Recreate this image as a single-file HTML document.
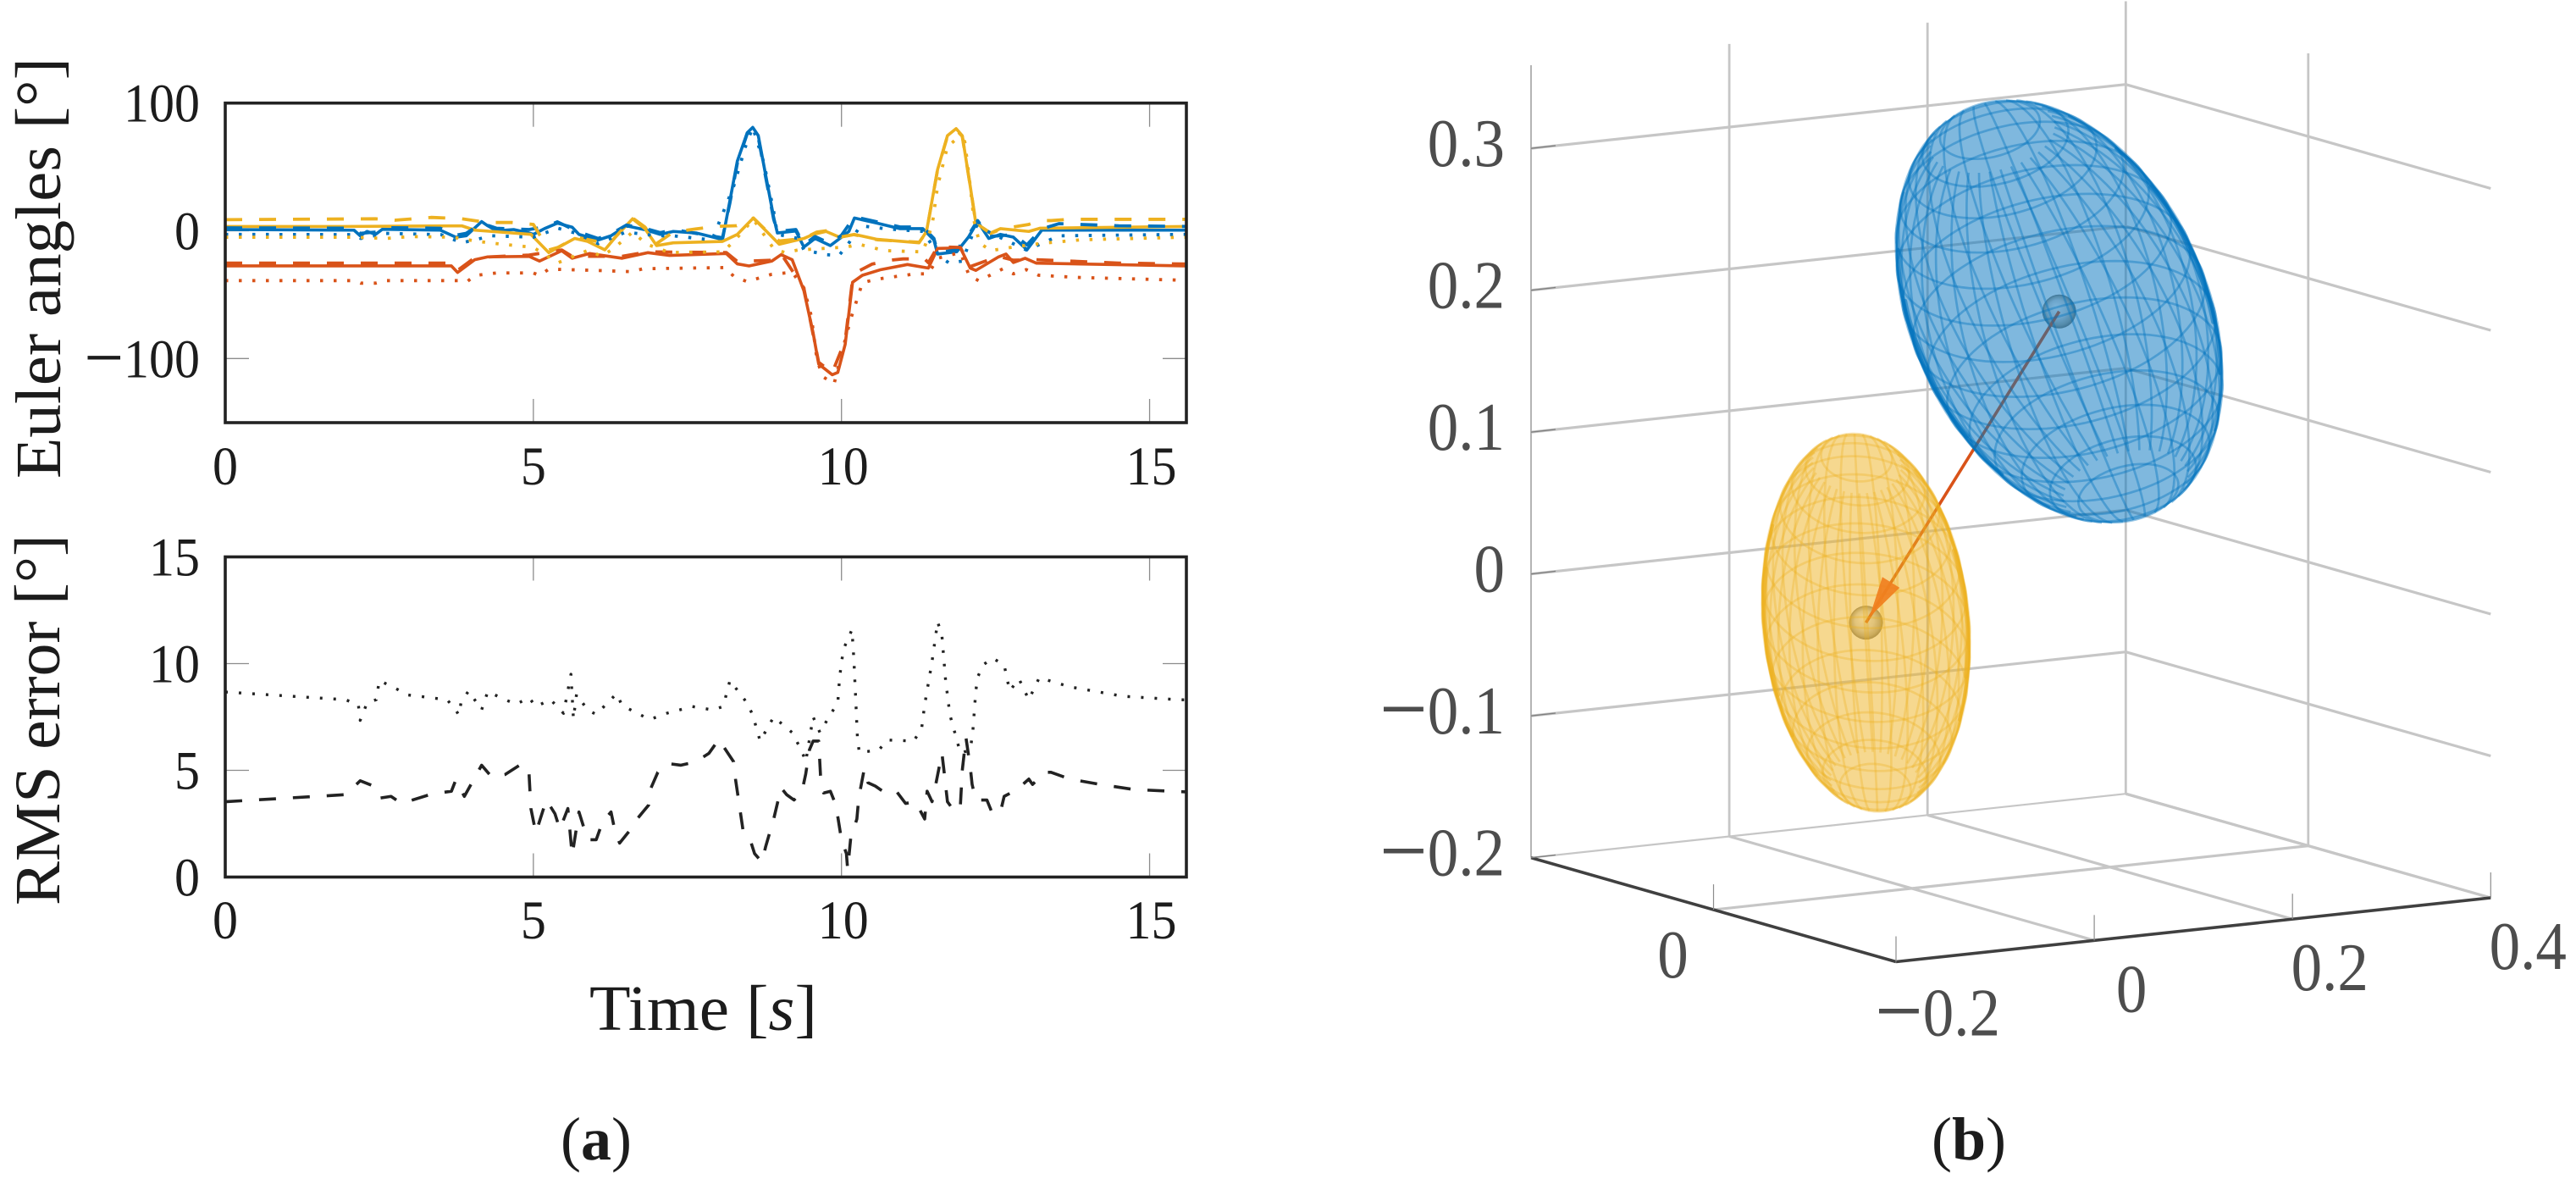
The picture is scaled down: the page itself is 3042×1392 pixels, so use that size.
<!DOCTYPE html>
<html lang="en">
<head>
<meta charset="utf-8">
<title>Euler angles, RMS error and covariance ellipsoids</title>
<style>
  html, body { margin: 0; padding: 0; background: #fff; }
  svg { display: block; }
  text { font-family: "Liberation Serif", serif; }
</style>
</head>
<body>
<svg id="figure" xmlns="http://www.w3.org/2000/svg" width="3042" height="1392" viewBox="0 0 3042 1392">
  <defs>
    <radialGradient id="sphere-shade" cx="0.5" cy="0.5" r="0.5" fx="0.4" fy="0.35">
      <stop offset="0" stop-color="#f6f6f6"/>
      <stop offset="0.55" stop-color="#d6d6d6"/>
      <stop offset="0.85" stop-color="#aaa69a"/>
      <stop offset="1" stop-color="#7a766c"/>
    </radialGradient>
    <clipPath id="clip-euler"><rect x="266" y="121.7" width="1135" height="377.3"/></clipPath>
    <clipPath id="clip-rms"><rect x="266" y="657.5" width="1135" height="378"/></clipPath>
  </defs>

  <g id="panel-a">
    <g id="euler-plot"></g>
    <g id="rms-plot"></g>
    <text transform="translate(71,565) rotate(-90)" font-size="76" fill="#1c1c1c" textLength="497" lengthAdjust="spacingAndGlyphs">Euler angles [°]</text>
    <text transform="translate(70,1069) rotate(-90)" font-size="76" fill="#1c1c1c" textLength="438" lengthAdjust="spacingAndGlyphs">RMS error [°]</text>
    <text x="696" y="1216" font-size="76" fill="#1c1c1c" textLength="269" lengthAdjust="spacingAndGlyphs">Time [<tspan font-style="italic">s</tspan>]</text>
    <text x="662" y="1369" font-size="72" fill="#1c1c1c">(<tspan font-weight="bold">a</tspan>)</text>
  </g>

  <g id="panel-b">
    <g id="scene-3d"></g>
    <text x="2281" y="1369" font-size="72" fill="#1c1c1c">(<tspan font-weight="bold">b</tspan>)</text>
  </g>
</svg>

<script>
// ---------- Panel (a) data: [time s, value] ----------
const timeTicks = [0, 5, 10, 15];
const eulerTicks = [100, 0, -100];
const rmsTicks = [15, 10, 5, 0];

const blueSolid = [[0,1],[2.09,.5],[2.19,-3.9],[2.3,-.5],[2.44,-2.8],[2.55,1.2],[3.49,.5],[3.74,-5],[3.91,-3.9],[4.16,7.2],[4.26,3.9],[4.4,0],[4.68,1],[4.93,-1.7],[5,-2.8],[5.18,1.7],[5.39,6],[5.63,2.8],[5.74,-2.8],[6.05,-7.2],[6.26,-3.9],[6.51,3.9],[6.84,.5],[7.06,-2.8],[7.27,-.5],[7.64,-1.7],[8.07,-6.8],[8.19,23.7],[8.31,54.6],[8.47,76.7],[8.56,81],[8.65,74.5],[8.77,43.6],[8.9,10.5],[8.96,-1.7],[9.26,-.1],[9.39,-12.7],[9.57,-6],[9.82,-11.6],[10,-5],[10.12,-.5],[10.21,10],[10.58,6],[10.95,1.7],[11.32,1.7],[11.5,-7.2],[11.56,-18.2],[11.87,-16.4],[12.06,-5],[12.21,7.2],[12.39,-6],[12.58,-2.8],[12.79,-5],[13.01,-14.9],[13.25,.5],[13.4,.5],[15.6,.5]];
const redSolid = [[0,-27.5],[3.67,-27.5],[3.77,-32.6],[4.05,-22.6],[4.26,-20.4],[4.93,-20],[5.1,-23.7],[5.46,-15.6],[5.63,-21.5],[5.91,-17.8],[6.44,-21.5],[6.86,-17.1],[7.21,-19.3],[8.13,-17.8],[8.31,-25.9],[8.5,-27.5],[8.87,-23.7],[9.02,-18.7],[9.2,-22.6],[9.39,-46.9],[9.54,-80],[9.63,-104.3],[9.85,-112.7],[9.94,-110.9],[10.06,-88.9],[10.18,-40.3],[10.34,-34.8],[10.64,-30.4],[11.07,-26.4],[11.41,-29.2],[11.56,-13.8],[11.93,-13.4],[12.09,-29.2],[12.18,-31],[12.55,-20.4],[12.67,-18.2],[12.79,-24.8],[12.98,-21.5],[13.16,-25.3],[15.6,-27.5]];
const yellowSolid = [[0,3.4],[1.95,3.4],[3.84,3.9],[4.05,.5],[4.96,-2.8],[5.25,-17.1],[5.67,-6],[5.88,-8.3],[6.16,-14.9],[6.33,-5],[6.61,9.4],[6.81,1.7],[7,-11.6],[7.27,-9.4],[8.07,-8.3],[8.31,-2.8],[8.57,10],[8.74,1.7],[8.99,-10.5],[9.39,-6],[9.54,-2.8],[9.75,-.5],[9.97,-5],[10.21,-2.8],[10.58,-6.7],[11.26,-9.4],[11.38,-.5],[11.56,48],[11.72,74.5],[11.86,80],[11.96,74.5],[12.09,34.8],[12.18,6],[12.42,-1.7],[12.58,1.7],[13.04,-.5],[13.22,2],[15.6,3.4]];

const blueDashed = [[0,2.3],[2.09,2],[2.19,-2],[2.44,-1],[2.55,2.5],[3.49,2],[3.74,-3.5],[3.91,-2],[4.16,6],[4.4,2],[4.93,1],[5.18,3],[5.39,7],[5.74,-1],[6.05,-6],[6.26,-2.5],[6.51,4.5],[6.84,1.5],[7.06,-1.5],[7.27,1],[8.07,-5.5],[8.19,22],[8.31,53],[8.47,76],[8.56,80],[8.65,73],[8.77,42],[8.9,9],[8.96,-.5],[9.26,1],[9.39,-11],[9.57,-4.5],[9.82,-10],[10,-3.5],[10.21,11],[10.58,7],[10.95,3],[11.32,3],[11.5,-6],[11.56,-17],[11.87,-15],[12.06,-3.5],[12.21,8],[12.39,-4.5],[12.79,-3],[13.01,-11],[13.25,1.5],[13.53,5.6],[14.5,3.9],[15.6,3.4]];
const redDashed = [[0,-25.3],[3.67,-25.3],[3.77,-31],[4.05,-21],[4.93,-19],[5.46,-15],[5.63,-20],[6.44,-20],[6.86,-16.5],[8.13,-17],[8.31,-24],[8.87,-23],[9.02,-18],[9.39,-45],[9.63,-103],[9.85,-111],[10.06,-86],[10.18,-38],[10.3,-31],[10.5,-26],[10.8,-23],[11,-22],[11.35,-22],[11.41,-25],[11.56,-12.5],[11.93,-13],[12.09,-28],[12.55,-20],[12.79,-23],[13.16,-22.6],[14.5,-25.3],[15.6,-26]];
const yellowDashed = [[0,8.7],[2.44,9.4],[2.75,8.3],[3.35,10.5],[3.84,9.4],[4.26,6.5],[4.65,6.5],[5,5],[5.25,-15],[5.4,-13],[5.7,-5],[6,-8],[6.2,-12],[6.33,-5],[6.61,10],[6.81,3],[7,-10],[7.27,-1],[7.64,1.5],[8,3.5],[8.3,4],[8.57,10],[8.74,2],[8.99,-8],[9.39,-6],[9.6,-1],[9.75,0],[9.97,-5],[10.2,-3],[10.58,-7],[11.26,-9],[11.38,-1],[11.56,48],[11.72,74],[11.86,79],[11.96,74],[12.09,35],[12.18,6],[12.42,-2],[12.58,1],[12.79,3],[13.04,5],[13.22,8],[13.4,8],[13.7,9],[15.6,9]];

const blueDotted = [[0,-2.8],[2.1,-3],[2.2,-6],[2.6,-2],[3.5,-3],[3.84,-9.4],[4.33,-3.9],[5,-5],[5.4,2],[5.7,-2],[6.05,-10],[6.5,-1],[7,-3.9],[7.27,-3.9],[7.9,-7.2],[8.25,34.8],[8.44,65.7],[8.56,81],[8.74,53.5],[8.9,15],[8.96,-2.8],[9.3,-6],[9.39,-15],[9.75,-18.7],[9.96,-19.3],[10.09,-11.6],[10.31,3.9],[10.7,1.7],[11.32,-.5],[11.6,-20.4],[11.75,-25.3],[11.96,-23.7],[12.04,-13.8],[12.18,3.9],[13,-15],[13.17,-11.6],[13.53,-3.9],[15.6,-2.8]];
const redDotted = [[0,-39],[2.1,-39],[2.2,-41],[2.44,-41],[2.6,-39],[3.8,-39],[3.92,-40],[4.05,-35],[4.4,-33],[5,-33],[5.1,-35],[5.25,-30],[6,-31],[6.6,-32],[6.78,-29.7],[8.1,-28.8],[8.26,-35.9],[8.47,-39.8],[8.87,-34],[9.2,-32.5],[9.39,-44.7],[9.51,-66.8],[9.6,-100],[9.69,-114],[9.88,-119.8],[10.03,-91],[10.15,-69],[10.34,-40.7],[10.55,-38],[11.2,-33.7],[11.41,-33.7],[11.56,-21.5],[11.93,-17],[12.07,-34.8],[12.23,-39.2],[12.62,-29.7],[12.79,-33.7],[13,-30.4],[13.2,-34.8],[13.83,-36.5],[15.4,-38.5],[15.6,-39]];
const yellowDotted = [[0,-5],[2.1,-5],[2.6,-6],[3,-4.5],[3.7,-5],[4.05,-8],[4.4,-10],[5,-13],[5.4,-25],[5.9,-15],[6.1,-20],[6.3,-14],[6.61,-1],[6.84,-10.5],[7.21,-17],[8.07,-16.5],[8.24,-9],[8.57,9],[8.9,-14],[9.08,-17],[9.3,-15],[10.09,-12.7],[10.28,-10.5],[10.7,-15.5],[11.32,-16.5],[11.47,4],[11.56,35],[11.72,66],[11.87,72],[12,70],[12.09,35],[12.15,8],[12.24,-9.4],[12.42,-15.5],[12.79,-12.7],[13.25,-9.8],[13.9,-7],[15.6,-5]];

const rmsDashed = [[0,3.53],[1.95,3.86],[2.19,4.51],[2.41,4.26],[2.51,3.7],[2.69,3.78],[2.86,3.45],[3.35,3.89],[3.67,4.02],[3.74,4.54],[3.88,3.78],[4.16,5.24],[4.33,4.67],[4.54,4.8],[4.82,5.32],[4.93,4.83],[4.96,3.21],[5.04,2.07],[5.21,3.61],[5.35,2.97],[5.43,2.24],[5.56,3.21],[5.63,1.02],[5.74,3.05],[5.88,1.75],[6.02,1.75],[6.12,2.56],[6.26,3.05],[6.33,2.07],[6.4,1.59],[6.58,2.24],[6.66,2.64],[6.87,3.37],[6.91,4.18],[7.02,4.91],[7.18,5.32],[7.39,5.24],[7.64,5.4],[7.85,5.8],[8.01,6.45],[8.1,6.05],[8.25,5.4],[8.28,4.59],[8.4,2.24],[8.5,1.91],[8.59,1.1],[8.71,.7],[8.77,1.43],[8.9,2.72],[9.02,4.18],[9.11,3.86],[9.23,3.61],[9.36,4.02],[9.42,4.83],[9.48,5.96],[9.54,6.37],[9.63,6.37],[9.66,4.75],[9.71,3.94],[9.82,4.02],[9.91,3.37],[10,1.75],[10.08,1.1],[10.1,.37],[10.15,1.83],[10.25,2.72],[10.28,3.7],[10.37,5.07],[10.43,4.42],[10.55,4.26],[10.71,3.94],[10.89,4.02],[11.04,3.45],[11.2,3.53],[11.35,2.72],[11.39,4.02],[11.47,3.53],[11.53,4.34],[11.63,5.8],[11.66,5.07],[11.72,3.53],[11.84,3.05],[11.93,3.37],[11.96,4.99],[12.02,6.53],[12.09,5.15],[12.12,4.34],[12.18,3.61],[12.36,3.61],[12.45,2.97],[12.58,3.05],[12.64,3.78],[12.85,4.1],[13.04,4.59],[13.1,4.34],[13.31,4.91],[13.4,4.91],[13.71,4.59],[14.2,4.34],[14.75,4.1],[15.6,3.99]];
const rmsDotted = [[0,8.67],[1.95,8.31],[2.16,8.07],[2.19,7.34],[2.3,8.15],[2.45,8.31],[2.5,9.21],[2.79,8.8],[2.97,8.53],[3.6,8.31],[3.74,7.83],[3.79,7.59],[3.83,8.23],[3.95,8.72],[4.16,7.83],[4.26,8.69],[4.54,8.31],[4.72,8.1],[4.93,8.4],[5.04,7.99],[5.28,8.31],[5.49,7.67],[5.61,9.5],[5.65,7.42],[5.7,8.56],[5.88,7.83],[6.02,7.62],[6.35,8.59],[6.44,8.04],[6.86,7.42],[6.9,7.39],[7.16,7.67],[7.58,7.99],[7.91,7.83],[8.08,7.99],[8.19,9.21],[8.47,8.15],[8.56,7.59],[8.68,6.37],[8.9,7.5],[9.2,6.77],[9.36,5.88],[9.42,5.4],[9.54,7.5],[9.65,6.77],[9.82,7.62],[9.94,8.15],[9.97,9.37],[10.03,10.66],[10.17,11.59],[10.2,10.26],[10.23,8.4],[10.26,6.45],[10.29,5.83],[10.61,5.96],[10.74,6.42],[11.17,6.37],[11.3,6.94],[11.35,8.07],[11.47,10.1],[11.56,11.96],[11.63,11.31],[11.69,9.21],[11.76,7.59],[11.87,6.45],[11.93,5.8],[12.09,5.96],[12.13,6.77],[12.18,8.72],[12.21,9.37],[12.3,9.94],[12.45,10.26],[12.64,9.94],[12.73,8.72],[12.88,9.29],[13.04,8.31],[13.21,9.34],[13.71,8.91],[14.57,8.47],[15.46,8.31],[15.6,8.3]];

// ---------- Panel (b) data (axis units) ----------
const xTicks3d = [-0.2, 0, 0.2, 0.4];
const yTicks3d = [0];
const zTicks3d = [0.3, 0.2, 0.1, 0, -0.1, -0.2];
const blueCenter = [0.1487, 0, 0.1955];
const blueAxisA = [0.1308, 0, 0.0324];
const blueAxisB = [0.0678, 0, -0.0480];
const blueAxisPole = [0.0743, 0, -0.1419];
const yellowCenter = [-0.0462, 0, -0.0092];
const yellowAxisA = [0.10199, 0, -0.00085];
const yellowAxisB = [0.02349, 0, -0.05054];
const yellowAxisPole = [0.01008, 0, -0.1246];

const NS = 'http://www.w3.org/2000/svg';
const BLUE = '#0072bd', RED = '#d95319', YELLOW = '#edb120';

function svgEl(parent, tag, attrs) {
  const el = document.createElementNS(NS, tag);
  for (const k in attrs) el.setAttribute(k, attrs[k]);
  parent.appendChild(el);
  return el;
}
// Number label; a leading minus is enlarged to the wide math-minus proportions.
function labelText(parent, x, y, value, size, anchor, fill, sy) {
  const el = svgEl(parent, 'text', {
    transform: 'translate(' + x + ',' + y + ') scale(1,' + sy + ')',
    'font-size': size, 'text-anchor': anchor, fill: fill
  });
  if (value < 0) {
    const minus = svgEl(el, 'tspan', {'font-size': size * 1.38, dy: size * 0.1});
    minus.textContent = '\u2212';
    const rest = svgEl(el, 'tspan', {dy: -size * 0.1});
    rest.textContent = String(Math.abs(value));
  } else {
    el.textContent = String(value);
  }
  return el;
}
function pts(data, fx, fy) {
  return data.map(function (d) { return fx(d[0]).toFixed(2) + ',' + fy(d[1]).toFixed(2); }).join(' ');
}

// ---------- Panel (a) axes ----------
const xA = function (t) { return 266 + t * 72.77; };
const yEuler = function (v) { return 272.5 - v * 1.508; };
const yRms = function (v) { return 1035.5 - v * 25.2; };

function drawPlot(root, top, bottom, yTicks, yFn, clipId, series, tickBaseline) {
  const left = 266, right = 1401;
  timeTicks.forEach(function (t) {
    const a = svgEl(root, 'line', {x1: xA(t), x2: xA(t), y1: top, y2: top + 28, stroke: '#8c8c8c', 'stroke-width': 1.3});
    
    
    const b = svgEl(root, 'line', {x1: xA(t), x2: xA(t), y1: bottom - 28, y2: bottom, stroke: '#8c8c8c', 'stroke-width': 1.3});
    
    
    const lab = labelText(root, xA(t) + (t >= 10 ? 2 : 0), tickBaseline, t, 60, 'middle', '#1c1c1c', 1.08);
    
    
  });
  yTicks.forEach(function (v) {
    const a = svgEl(root, 'line', {x1: left, x2: left + 28, y1: yFn(v), y2: yFn(v), stroke: '#8c8c8c', 'stroke-width': 1.3});
    
    
    const b = svgEl(root, 'line', {x1: right - 28, x2: right, y1: yFn(v), y2: yFn(v), stroke: '#8c8c8c', 'stroke-width': 1.3});
    
    
    const lab = labelText(root, 236, yFn(v) + 22, v, 60, 'end', '#1c1c1c', 1.08);
    
    
  });
  const g = svgEl(root, 'g', {'clip-path': 'url(#' + clipId + ')'});
  series.forEach(function (s) {
    const line = svgEl(g, 'polyline', {
      points: pts(s.data, xA, yFn), fill: 'none', stroke: s.color,
      'stroke-width': s.width, 'stroke-dasharray': s.dash, 'stroke-linejoin': 'round'
    });
    
    
  });
  const frame = svgEl(root, 'rect', {x: left, y: top, width: right - left, height: bottom - top, fill: 'none', stroke: '#222', 'stroke-width': 3.6});
  
  
}

const DASH = '20 20', DOT = '3.5 12.5', SOLID = 'none';
drawPlot(document.getElementById('euler-plot'), 121.7, 499, eulerTicks, yEuler, 'clip-euler', [
  {name: 'blue-solid-line', data: blueSolid, color: BLUE, width: 3.6, dash: SOLID},
  {name: 'red-solid-line', data: redSolid, color: RED, width: 3.6, dash: SOLID},
  {name: 'yellow-solid-line', data: yellowSolid, color: YELLOW, width: 3.6, dash: SOLID},
  {name: 'blue-dashed-line', data: blueDashed, color: BLUE, width: 3.8, dash: DASH},
  {name: 'red-dashed-line', data: redDashed, color: RED, width: 3.8, dash: DASH},
  {name: 'yellow-dashed-line', data: yellowDashed, color: YELLOW, width: 3.8, dash: DASH},
  {name: 'blue-dotted-line', data: blueDotted, color: BLUE, width: 3.8, dash: DOT},
  {name: 'red-dotted-line', data: redDotted, color: RED, width: 3.8, dash: DOT},
  {name: 'yellow-dotted-line', data: yellowDotted, color: YELLOW, width: 3.8, dash: DOT}
], 572);
drawPlot(document.getElementById('rms-plot'), 657.5, 1035.5, rmsTicks, yRms, 'clip-rms', [
  {name: 'rms-dashed-line', data: rmsDashed, color: '#222', width: 3.6, dash: DASH},
  {name: 'rms-dotted-line', data: rmsDotted, color: '#222', width: 3.4, dash: '3 13'}
], 1108);

// ---------- Panel (b): orthographic projection ----------
const Z_TOP = 0.3586, X_MIN = -0.2, X_MAX = 0.4, Y_MIN = -0.3, Y_MAX = 0.3, Z_MIN = -0.2;
function project(x, y, z) {
  return [
    2239 + (x - X_MIN) * 1170.5 - (y - Y_MIN) * 718.3,
    1135.5 - (x - X_MIN) * 125.8 - (y - Y_MIN) * 204.7 - (z - Z_MIN) * 1675
  ];
}
const scene = document.getElementById('scene-3d');
function seg(p, q, stroke, w, name) {
  const l = svgEl(scene, 'line', {x1: p[0], y1: p[1], x2: q[0], y2: q[1], stroke: stroke, 'stroke-width': w});
  
  
  return l;
}
const GRID = '#c6c6c6';

// wall and floor grid
zTicks3d.forEach(function (z) {
  const w = z === Z_MIN ? 2.2 : 3.2;
  seg(project(X_MIN, Y_MAX, z), project(X_MAX, Y_MAX, z), GRID, w, 'back-wall-gridline');
  seg(project(X_MAX, Y_MAX, z), project(X_MAX, Y_MIN, z), GRID, 3.2, 'side-wall-gridline');
});
xTicks3d.forEach(function (x) {
  if (x === X_MIN) {
    seg(project(x, Y_MAX, Z_MIN), project(x, Y_MAX, Z_TOP), '#b4b4b4', 2, 'z-axis-line');
  } else {
    seg(project(x, Y_MAX, Z_MIN), project(x, Y_MAX, Z_TOP), GRID, 2.8, 'back-wall-vertical-gridline');
  }
  if (x !== X_MAX && x !== X_MIN) {
    seg(project(x, Y_MIN, Z_MIN), project(x, Y_MAX, Z_MIN), GRID, 3.2, 'floor-gridline');
  }
});
yTicks3d.forEach(function (y) {
  seg(project(X_MAX, y, Z_MIN), project(X_MAX, y, Z_TOP), GRID, 2.8, 'side-wall-vertical-gridline');
  seg(project(X_MIN, y, Z_MIN), project(X_MAX, y, Z_MIN), GRID, 3.2, 'floor-gridline');
});
seg(project(X_MAX, Y_MIN, Z_MIN), project(X_MAX, Y_MAX, Z_MIN), GRID, 3.2, 'floor-edge');

// axes lines, ticks and labels
seg(project(X_MIN, Y_MAX, Z_MIN), project(X_MIN, Y_MIN, Z_MIN), '#404040', 3.6, 'y-axis-line');
seg(project(X_MIN, Y_MIN, Z_MIN), project(X_MAX, Y_MIN, Z_MIN), '#404040', 3.6, 'x-axis-line');
const LABEL3D = '#4d4d4d';
xTicks3d.forEach(function (x) {
  const p = project(x, Y_MIN, Z_MIN);
  seg(p, [p[0], p[1] - 30], '#8c8c8c', 1.2, 'x-axis-tick');
  const off = x === X_MIN ? 49 : 44;
  const base = x === X_MIN ? 87 : 84;
  const t = labelText(scene, p[0] + off, p[1] + base, x, 73, 'middle', LABEL3D, 1.1);
  
  
});
yTicks3d.forEach(function (y) {
  const p = project(X_MIN, y, Z_MIN);
  seg(p, [p[0], p[1] - 30], '#8c8c8c', 1.2, 'y-axis-tick');
  const t = labelText(scene, p[0] - 48, p[1] + 80, y, 73, 'middle', LABEL3D, 1.1);
  
  
});
zTicks3d.forEach(function (z) {
  const p = project(X_MIN, Y_MAX, z);
  seg(p, [p[0] + 29, p[1] - 3.2], '#808080', 1.4, 'z-axis-tick');
  const t = labelText(scene, 1777, p[1] + 21, z, 73, 'end', LABEL3D, 1.1);
  
  
});

// centre spheres, drawn beneath the translucent shells
function drawSphere(center, name) {
  const p = project(center[0], center[1], center[2]);
  const c = svgEl(scene, 'circle', {cx: p[0], cy: p[1], r: 20, fill: 'url(#sphere-shade)'});
  
  
}
drawSphere(blueCenter, 'blue-centre-sphere');
drawSphere(yellowCenter, 'yellow-centre-sphere');

// arrow between centres
const arrowStart = project(blueCenter[0], blueCenter[1], blueCenter[2]);
const arrowEnd = project(yellowCenter[0], yellowCenter[1], yellowCenter[2]);
seg(arrowStart, arrowEnd, RED, 3.6, 'offset-arrow-shaft');

// ellipsoid shells
function drawEllipsoid(center, A, B, P, color, lineAlpha, name) {
  const g = svgEl(scene, 'g', {});
  
  
  function surf(u, v) {
    const su = Math.sin(u), cu = Math.cos(u), cv = Math.cos(v), sv = Math.sin(v);
    return project(
      center[0] + su * cv * A[0] + su * sv * B[0] + cu * P[0],
      center[1] + su * cv * A[1] + su * sv * B[1] + cu * P[1],
      center[2] + su * cv * A[2] + su * sv * B[2] + cu * P[2]
    );
  }
  function fmt(p) { return p[0].toFixed(1) + ',' + p[1].toFixed(1); }
  // silhouette from the projected axes (principal frame of the projected shape)
  const o = project(center[0], center[1], center[2]);
  const vecs = [A, B, P].map(function (e) {
    const q = project(center[0] + e[0], center[1] + e[1], center[2] + e[2]);
    return [q[0] - o[0], q[1] - o[1]];
  });
  let a = 0, b = 0, c = 0;
  vecs.forEach(function (e) { a += e[0] * e[0]; b += e[0] * e[1]; c += e[1] * e[1]; });
  const mean = (a + c) / 2, r = Math.hypot((a - c) / 2, b);
  const theta = 0.5 * Math.atan2(2 * b, a - c);
  const major = Math.sqrt(mean + r), minor = Math.sqrt(mean - r);
  function rim(phi, k) {
    const cp = Math.cos(phi) * major * k, sp = Math.sin(phi) * minor * k;
    return [
      o[0] + Math.cos(theta) * cp - Math.sin(theta) * sp,
      o[1] + Math.sin(theta) * cp + Math.cos(theta) * sp
    ];
  }
  const outline = [];
  for (let i = 0; i < 180; i++) outline.push(fmt(rim(i / 180 * 2 * Math.PI, 1)));
  const fill = svgEl(g, 'polygon', {points: outline.join(' '), fill: color, 'fill-opacity': 0.5});
  
  
  // mesh: meridians stop short of the poles, rings skip the tiny polar circles
  const mesh = svgEl(g, 'g', {fill: 'none', stroke: color, 'stroke-opacity': lineAlpha, 'stroke-width': 2.7});
  
  
  const NV = 36, NU = 18, STEPS = 48, CAP = 0.14 * Math.PI;
  for (let i = 0; i < NV; i++) {
    const line = [];
    for (let k = 0; k <= STEPS; k++) line.push(fmt(surf(CAP + k / STEPS * (Math.PI - 2 * CAP), i / NV * 2 * Math.PI)));
    svgEl(mesh, 'polyline', {points: line.join(' ')});
  }
  for (let j = 2; j < NU - 1; j++) {
    const line = [];
    for (let k = 0; k <= STEPS * 2; k++) line.push(fmt(surf(j / NU * Math.PI, k / (STEPS * 2) * 2 * Math.PI)));
    svgEl(mesh, 'polyline', {points: line.join(' ')});
  }
  // crowded mesh along the long flanks darkens the rim
  const rimBands = svgEl(g, 'g', {fill: 'none', stroke: color, 'stroke-linecap': 'round'});
  
  
  [Math.PI / 2, -Math.PI / 2].forEach(function (mid) {
    [[0.9, 0.992, 3, 0.45], [0.6, 0.985, 4, 0.6], [0.35, 0.975, 5, 0.55]].forEach(function (b) {
      const line = [];
      for (let k = -12; k <= 12; k++) line.push(fmt(rim(mid + k / 12 * b[0], b[1])));
      svgEl(rimBands, 'polyline', {points: line.join(' '), 'stroke-width': b[2], 'stroke-opacity': b[3]});
    });
  });
}
drawEllipsoid(yellowCenter, yellowAxisA, yellowAxisB, yellowAxisPole, YELLOW, 0.32, 'yellow-ellipsoid');
drawEllipsoid(blueCenter, blueAxisA, blueAxisB, blueAxisPole, BLUE, 0.4, 'blue-ellipsoid');

// arrow head
(function () {
  const dx = arrowStart[0] - arrowEnd[0], dy = arrowStart[1] - arrowEnd[1];
  const len = Math.hypot(dx, dy), ux = dx / len, uy = dy / len;
  const bx = arrowEnd[0] + ux * 56, by = arrowEnd[1] + uy * 56;
  const nx = -uy, ny = ux;
  const head = svgEl(scene, 'polygon', {
    points: [arrowEnd[0] + ux * 8, arrowEnd[1] + uy * 8].join(',') + ' ' +
            [bx + nx * 12, by + ny * 12].join(',') + ' ' +
            [bx, by].join(',') + ' ' +
            [bx - nx * 12, by - ny * 12].join(','),
    fill: '#f07f1e', 'fill-opacity': 0.92
  });
  
  
})();
</script>
</body>
</html>
